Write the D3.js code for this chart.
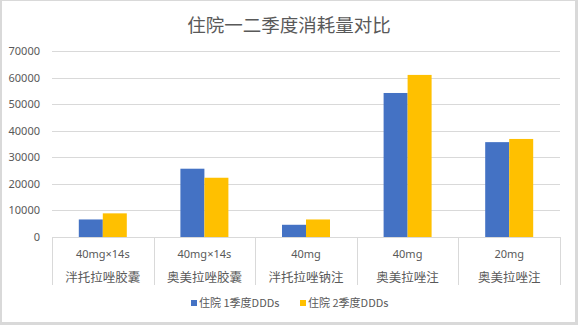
<!DOCTYPE html>
<html>
<head>
<meta charset="utf-8">
<script src="https://cdn.jsdelivr.net/npm/d3@7"></script>
<style>
  html, body { margin: 0; padding: 0; background: #d9d9d9; }
  svg { display: block; }
  text { font-family: "Noto Sans CJK SC", "Noto Sans", sans-serif; fill: #595959; }
</style>
</head>
<body>
<svg id="chart" width="578" height="325"></svg>
<script>
// Drug specs (first row of the axis) and names (second row)
const specs = ["40mg×14s", "40mg×14s", "40mg", "40mg", "20mg"];
const drugs = ["泮托拉唑胶囊", "奥美拉唑胶囊", "泮托拉唑钠注", "奥美拉唑注", "奥美拉唑注"];
const seriesNames = ["住院 1季度DDDs", "住院 2季度DDDs"];
const q1 = [6600, 25700, 4600, 54200, 35700];
const q2 = [8900, 22300, 6600, 61000, 36900];
const yTicks = [0, 10000, 20000, 30000, 40000, 50000, 60000, 70000];
const colors = ["#4472c4", "#ffc000"];
const title = "住院一二季度消耗量对比";

const svg = d3.select("#chart");

// chart frame
svg.append("rect").attr("x", 2).attr("y", 1).attr("width", 573).attr("height", 321)
  .attr("fill", "#ffffff");

const plotLeft = 52, plotRight = 560, plotTop = 51, plotBottom = 237;

const x = d3.scaleBand().domain(d3.range(specs.length)).range([plotLeft, plotRight]).padding(0);
const y = d3.scaleLinear().domain([0, 70000]).range([plotBottom, plotTop]);

// title
svg.append("text").attr("x", 289).attr("y", 32).attr("text-anchor", "middle")
  .style("font-size", "18.5px").text(title);

// horizontal gridlines
svg.append("g").selectAll("line").data(yTicks.filter(d => d > 0)).join("line")
  .attr("x1", plotLeft).attr("x2", plotRight)
  .attr("y1", d => Math.round(y(d)) + 0.5).attr("y2", d => Math.round(y(d)) + 0.5)
  .attr("stroke", "#d9d9d9").attr("stroke-width", 1);

// y axis labels
const yAxis = d3.axisLeft(y).tickValues(yTicks).tickSize(0).tickPadding(12).tickFormat(d3.format("d"));
const gy = svg.append("g").attr("transform", `translate(${plotLeft},0)`).call(yAxis);
gy.select(".domain").remove();
gy.selectAll("text").style("font-size", "11px").attr("fill", "#595959")
  .style("font-family", "'Noto Sans', sans-serif");

// bars
const inner = d3.scaleBand().domain([0, 1]).range([0, 48]);
const groups = svg.append("g").selectAll("g").data(specs).join("g")
  .attr("transform", (d, i) => `translate(${x(i) + x.bandwidth() / 2 - 24},0)`);
groups.selectAll("rect").data((d, i) => [q1[i], q2[i]]).join("rect")
  .attr("x", (d, j) => inner(j)).attr("width", inner.bandwidth())
  .attr("y", d => y(d)).attr("height", d => y(0) - y(d))
  .attr("fill", (d, j) => colors[j]);

// category axis: baseline and separators
svg.append("line").attr("x1", plotLeft).attr("x2", plotRight)
  .attr("y1", plotBottom + 0.5).attr("y2", plotBottom + 0.5)
  .attr("stroke", "#d9d9d9");
svg.append("g").selectAll("line").data(d3.range(specs.length + 1)).join("line")
  .attr("x1", i => Math.round(plotLeft + i * x.step()) + 0.5)
  .attr("x2", i => Math.round(plotLeft + i * x.step()) + 0.5)
  .attr("y1", plotBottom).attr("y2", 285)
  .attr("stroke", "#d9d9d9");

svg.append("g").selectAll("text").data(specs).join("text")
  .attr("x", (d, i) => x(i) + x.bandwidth() / 2).attr("y", 258)
  .attr("text-anchor", "middle").style("font-size", "11px")
  .style("font-family", "'Noto Sans', sans-serif").text(d => d);

svg.append("g").selectAll("text").data(drugs).join("text")
  .attr("x", (d, i) => x(i) + x.bandwidth() / 2).attr("y", 282)
  .attr("text-anchor", "middle").style("font-size", "12.5px").text(d => d);

// legend
const legendX = [191, 300];
const lg = svg.append("g").selectAll("g").data(seriesNames).join("g")
  .attr("transform", (d, i) => `translate(${legendX[i]},300)`);
lg.append("rect").attr("width", 6).attr("height", 6).attr("fill", (d, i) => colors[i]);
lg.append("text").attr("x", 8).attr("y", 7).style("font-size", "11px").text(d => d);
</script>
</body>
</html>
